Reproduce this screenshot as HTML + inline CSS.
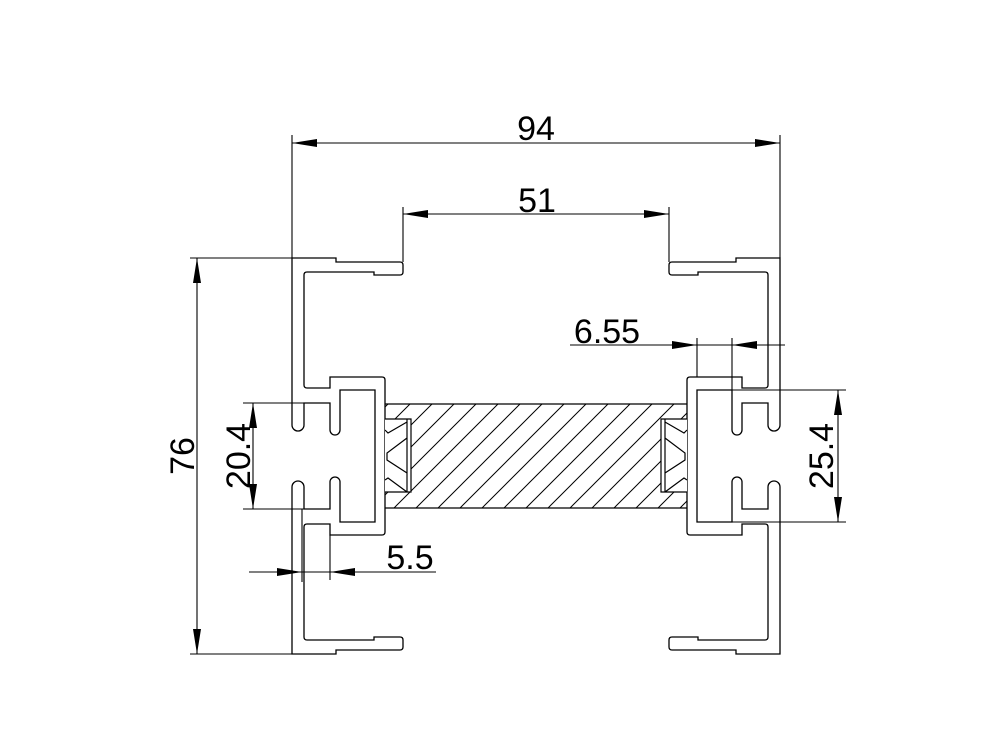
<!DOCTYPE html>
<html><head><meta charset="utf-8"><style>
html,body{margin:0;padding:0;background:#fff;}
svg{display:block;}
text{font-family:"Liberation Sans",sans-serif;fill:#000;}
</style></head><body>
<svg width="1000" height="750" viewBox="0 0 1000 750" xmlns="http://www.w3.org/2000/svg">
<defs>
<pattern id="h" patternUnits="userSpaceOnUse" width="22" height="22">
<path d="M-5,5 L5,-5 M0,22 L22,0 M17,27 L27,17" stroke="#000" stroke-width="1"/>
</pattern>
<g id="prof">
<path d="M292,425 L292,258 L336,258 L336,262 L400,262 Q403,262 403,265 L403,272 Q403,275 400,275 L374,275 L374,272 L307,272 Q304,272 304,275 L304,385 Q304,388 307,388 L330,388 L330,377 L382,377 Q385,377 385,380 L385,532 Q385,535 382,535 L330,535 L330,524 L307,524 Q304,524 304,527 L304,637 Q304,640 307,640 L374,640 L374,637 L400,637 Q403,637 403,640 L403,647 Q403,650 400,650 L336,650 L336,654 L292,654 L292,487 A6,6 0 0 1 304,487 L304,509 L330,509 L330,482 A5,5 0 0 1 340,482 L340,522 L375,522 L375,390 L340,390 L340,430 A5,5 0 0 1 330,430 L330,403 L304,403 L304,425 A6,6 0 0 1 292,425 Z" fill="none" stroke="#000" stroke-width="1.3"/>
<path d="M385,419 L411,419 L411,492 L385,492 Z" fill="#fff" stroke="none"/>
<path d="M385,419 L411,419 L411,492 L385,492 M407,419 L407,492 M385,430 L388,433 L407,422 M407,438 L387,453 L387,460 L407,473 M407,492 L388,478 L385,480" fill="none" stroke="#000" stroke-width="1.2"/>
</g>
</defs>
<rect x="385" y="404" width="302" height="104" fill="url(#h)"/>
<path d="M385,404 L687,404 M385,508 L687,508" stroke="#000" stroke-width="1.2"/>
<use href="#prof"/>
<use href="#prof" transform="translate(1072,0) scale(-1,1)"/>
<g stroke="#000" stroke-width="1.1" fill="none">
<path d="M292,135 L292,258 M780,135 L780,258 M292,143 L780,143"/>
<path d="M403,207 L403,262 M669,207 L669,262 M403,214 L669,214"/>
<path d="M190,258 L292,258 M190,654 L292,654 M197,258 L197,654"/>
<path d="M243,403 L304,403 M243,509 L304,509 M253,403 L253,509"/>
<path d="M698,390 L846,390 M698,522 L846,522 M838,390 L838,522"/>
<path d="M697,338 L697,377 M732,338 L732,390 M570,345 L785,345"/>
<path d="M302,509 L302,582 M330,535 L330,580 M249,572 L436,572"/>
</g>
<g fill="#000">
<path d="M292,143 L317,139 L317,147 Z M780,143 L755,139 L755,147 Z"/>
<path d="M403,214 L428,210 L428,218 Z M669,214 L644,210 L644,218 Z"/>
<path d="M197,258 L193,283 L201,283 Z M197,654 L193,629 L201,629 Z"/>
<path d="M253,403 L249,428 L257,428 Z M253,509 L249,484 L257,484 Z"/>
<path d="M838,390 L834,415 L842,415 Z M838,522 L834,497 L842,497 Z"/>
<path d="M697,345 L672,341 L672,349 Z M732,345 L757,341 L757,349 Z"/>
<path d="M302,572 L277,568 L277,576 Z M330,572 L355,568 L355,576 Z"/>
</g>
<text x="536" y="140" font-size="34" text-anchor="middle">94</text>
<text x="537" y="212" font-size="34" text-anchor="middle">51</text>
<text x="607" y="343" font-size="34" text-anchor="middle">6.55</text>
<text x="410" y="569" font-size="34" text-anchor="middle">5.5</text>
<text transform="translate(194,456) rotate(-90)" font-size="34" text-anchor="middle">76</text>
<text transform="translate(250,456) rotate(-90)" font-size="34" text-anchor="middle">20.4</text>
<text transform="translate(833,456) rotate(-90)" font-size="34" text-anchor="middle">25.4</text>
</svg>
</body></html>
